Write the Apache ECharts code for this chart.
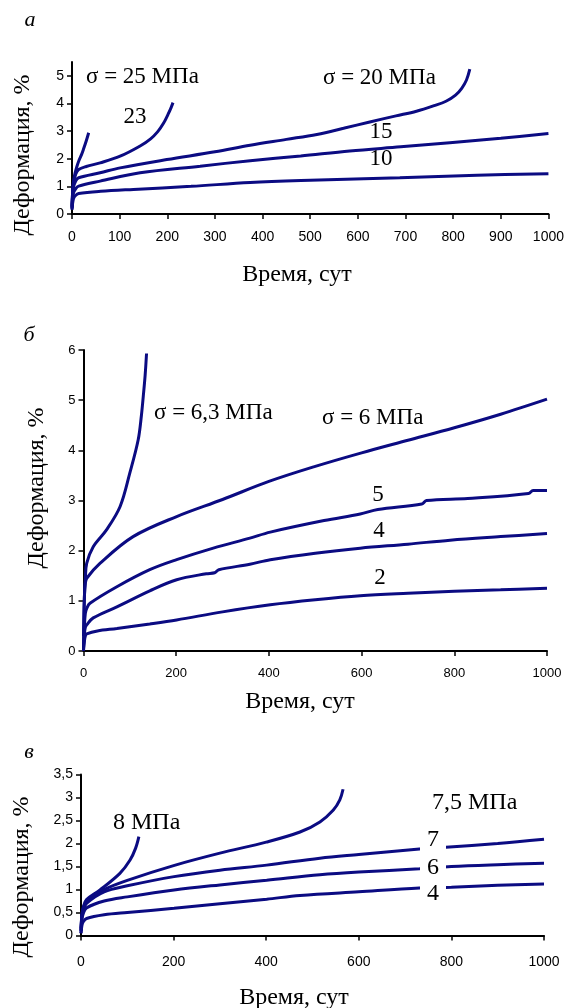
<!DOCTYPE html>
<html>
<head>
<meta charset="utf-8">
<script src="https://cdn.jsdelivr.net/npm/echarts@6/dist/echarts.min.js"></script>
<style>
  html, body { margin: 0; padding: 0; background: #fff; }
  #chart { width: 567px; height: 1008px; }
</style>
</head>
<body>
<div id="chart"></div>
<script>
// кривые ползучести: [время, сут; деформация, %]
// панель а
var a25 = [[0,0.2],[2,1.0],[5,1.37],[10,1.7],[14,1.91],[20,2.15],[24,2.34],[30,2.65],[35,2.94]];
var a23 = [[0,0.3],[3,1.1],[8,1.45],[14,1.61],[30,1.72],[59,1.85],[101,2.09],[143,2.46],[165,2.72],[180,2.98],[192,3.28],[202,3.62],[208,3.85],[212,4.03]];
var a20 = [[0,0.25],[3,0.95],[8,1.2],[14,1.31],[59,1.49],[101,1.67],[199,1.97],[300,2.25],[374,2.49],[450,2.7],[514,2.88],[570,3.1],[625,3.33],[680,3.55],[723,3.72],[760,3.92],[785,4.08],[805,4.3],[818,4.55],[828,4.85],[835,5.24]];
var a15 = [[0,0.2],[3,0.75],[8,0.92],[14,1.01],[59,1.19],[143,1.49],[269,1.73],[374,1.93],[480,2.1],[583,2.28],[690,2.43],[793,2.58],[900,2.74],[1000,2.91]];
var a10 = [[0,0.15],[3,0.55],[8,0.68],[14,0.74],[60,0.82],[129,0.89],[250,1.0],[374,1.14],[500,1.22],[688,1.31],[850,1.4],[1000,1.46]];
// панель б
var b63 = [[0,0],[1,0.6],[2,1.08],[4,1.45],[7,1.75],[21,2.08],[50,2.42],[79,2.88],[100,3.55],[118,4.21],[125,4.7],[129,5.08],[133,5.5],[136,5.93]];
var b6 = [[0,0.3],[2,1.1],[4,1.35],[7,1.45],[36,1.75],[107,2.28],[201,2.68],[300,3.02],[400,3.38],[500,3.68],[600,3.95],[700,4.2],[800,4.45],[900,4.72],[1000,5.02]];
var b5 = [[0,0.1],[2,0.5],[4,0.75],[7,0.85],[14,0.95],[72,1.28],[143,1.62],[201,1.82],[280,2.05],[359,2.25],[403,2.37],[519,2.6],[597,2.73],[635,2.82],[730,2.93],[740,3.0],[829,3.04],[960,3.14],[970,3.2],[1000,3.2]];
var b4 = [[0,0.05],[2,0.35],[4,0.47],[7,0.52],[21,0.66],[72,0.88],[143,1.2],[201,1.42],[265,1.54],[283,1.56],[292,1.62],[359,1.73],[403,1.82],[500,1.95],[597,2.05],[700,2.13],[791,2.21],[900,2.28],[1000,2.34]];
var b2 = [[0,0],[2,0.2],[4,0.3],[7,0.34],[30,0.4],[72,0.45],[143,0.54],[201,0.62],[300,0.78],[403,0.92],[500,1.02],[597,1.1],[700,1.15],[800,1.19],[900,1.22],[1000,1.25]];
// панель в
var c8 = [[0,0.1],[2,0.45],[5,0.62],[12,0.78],[41,0.99],[84,1.35],[106,1.64],[118,1.9],[125,2.15]];
var c75 = [[0,0.15],[2,0.45],[5,0.6],[12,0.75],[50,1.0],[100,1.2],[200,1.52],[300,1.79],[400,2.03],[473,2.25],[516,2.47],[545,2.73],[559,2.95],[566,3.18]];
var c7 = [[0,0.1],[2,0.4],[5,0.55],[12,0.7],[50,0.95],[100,1.08],[201,1.28],[300,1.42],[401,1.53],[516,1.68],[600,1.76],[731,1.88],[788,1.92],[900,2.0],[1000,2.09]];
var c6 = [[0,0.05],[2,0.35],[5,0.48],[12,0.6],[50,0.75],[100,0.84],[201,0.99],[300,1.1],[401,1.2],[516,1.32],[600,1.38],[731,1.45],[800,1.5],[900,1.54],[1000,1.57]];
var c4 = [[0,0.05],[2,0.22],[5,0.3],[12,0.37],[50,0.45],[100,0.5],[201,0.59],[300,0.69],[401,0.79],[473,0.87],[600,0.95],[731,1.03],[800,1.05],[900,1.09],[1000,1.12]];

var yTicksA = [0, 1, 2, 3, 4, 5];

var chart = echarts.init(document.getElementById('chart'));
var lineColor = '#0b0b82';
var serif = "'Liberation Serif', 'Times New Roman', serif";
var sans = "'Liberation Sans', Arial, sans-serif";

function curve(data, g) {
    return {
        type: 'line', data: data, xAxisIndex: g, yAxisIndex: g,
        showSymbol: false, smooth: 0.35,
        lineStyle: { color: lineColor, width: 3 }
    };
}
function xAx(g, interval, size, margin) {
    return {
        type: 'value', gridIndex: g, min: 0, max: 1000, interval: interval,
        splitLine: { show: false },
        axisLine: { lineStyle: { color: '#000', width: 2 } },
        axisTick: { length: 5, lineStyle: { color: '#000', width: 1.5 } },
        axisLabel: { color: '#000', fontFamily: sans, fontSize: size, margin: margin,
                     formatter: function (v) { return String(v); } }
    };
}
function yAx(g, max, interval, size, fmt) {
    return {
        type: 'value', gridIndex: g, min: 0, max: max, interval: interval,
        splitLine: { show: false },
        axisLine: { show: true, lineStyle: { color: '#000', width: 2 } },
        axisTick: { show: true, length: 5, lineStyle: { color: '#000', width: 1.5 } },
        axisLabel: { color: '#000', fontFamily: sans, fontSize: size, margin: 8, formatter: fmt }
    };
}
function txt(s, x, y, size, extra) {
    var st = { text: s, x: 0, y: 0, font: (extra && extra.italic ? 'italic ' : '') + size + 'px ' + serif,
               fill: '#000', align: (extra && extra.align) || 'center', verticalAlign: 'middle' };
    if (extra && extra.bg) { st.backgroundColor = '#fff'; st.padding = [0, 7]; }
    return { type: 'text', x: x, y: y, z: 100, rotation: (extra && extra.rot) || 0, style: st };
}

var yA = yAx(0, 5.5, 1, 14);
yA.axisLabel.customValues = yTicksA;
yA.axisTick.customValues = yTicksA;

var option = {
    animation: false,
    grid: [
        { left: 72, right: 18, top: 62, height: 152 },
        { left: 83.5, right: 20, top: 350, height: 301 },
        { left: 81, right: 23, top: 774.5, height: 161 }
    ],
    xAxis: [xAx(0, 100, 14, 16), xAx(1, 200, 13, 16), xAx(2, 200, 14, 20)],
    yAxis: [yA, yAx(1, 6, 1, 13),
            yAx(2, 3.5, 0.5, 14, function (v) { return String(v).replace('.', ','); })],
    series: [
        curve(a25, 0), curve(a23, 0), curve(a20, 0), curve(a15, 0), curve(a10, 0),
        curve(b63, 1), curve(b6, 1), curve(b5, 1), curve(b4, 1), curve(b2, 1),
        curve(c8, 2), curve(c75, 2), curve(c7, 2), curve(c6, 2), curve(c4, 2)
    ],
    graphic: [
        // панель а
        txt('а', 30, 20, 22, { italic: true }),
        txt('σ = 25 МПа', 86, 77, 23, { align: 'left' }),
        txt('23', 135, 117, 23),
        txt('σ = 20 МПа', 323, 78, 23, { align: 'left' }),
        txt('15', 381, 132, 23),
        txt('10', 381, 159, 23),
        txt('Деформация, %', 23, 155, 24, { rot: Math.PI / 2 }),
        txt('Время, сут', 297, 275, 24),
        // панель б
        txt('б', 29, 335, 22, { italic: true }),
        txt('σ = 6,3 МПа', 154, 413, 23, { align: 'left' }),
        txt('σ = 6 МПа', 322, 418, 23, { align: 'left' }),
        txt('5', 378, 495, 23),
        txt('4', 379, 531, 23),
        txt('2', 380, 578, 23),
        txt('Деформация, %', 37, 488, 24, { rot: Math.PI / 2 }),
        txt('Время, сут', 300, 702, 24),
        // панель в
        txt('в', 29, 752, 22, { italic: true }),
        txt('8 МПа', 113, 823, 24, { align: 'left' }),
        txt('7,5 МПа', 432, 803, 24, { align: 'left' }),
        txt('7', 433, 840, 24, { bg: true }),
        txt('6', 433, 868, 24, { bg: true }),
        txt('4', 433, 894, 24, { bg: true }),
        txt('Деформация, %', 22, 877, 24, { rot: Math.PI / 2 }),
        txt('Время, сут', 294, 998, 24)
    ]
};
chart.setOption(option);
</script>
</body>
</html>
